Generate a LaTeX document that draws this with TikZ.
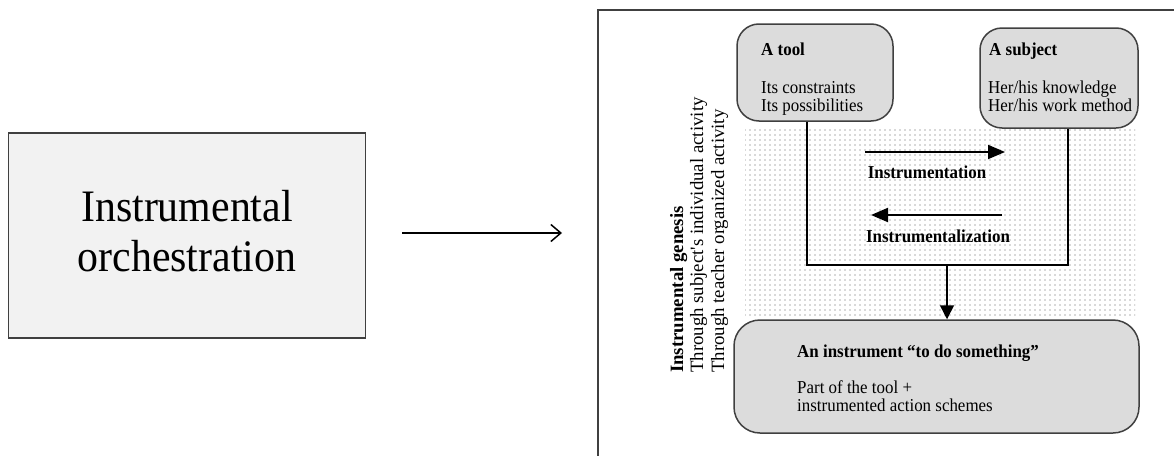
\documentclass[tikz,border=0pt]{standalone}
\usepackage{fontspec}
\setmainfont{Liberation Serif}[FakeStretch=0.93]
\newfontfamily\rotfont{Liberation Serif}
\usetikzlibrary{arrows.meta,patterns.meta}
\definecolor{boxfill}{RGB}{220,220,220}
\definecolor{leftfill}{RGB}{242,242,242}
\definecolor{edgecol}{RGB}{64,64,64}
\definecolor{dotcol}{RGB}{180,180,180}
\begin{document}
\begin{tikzpicture}[x=1pt,y=-1pt,
  rbox/.style={draw=edgecol, line width=1.5pt, fill=boxfill, rounded corners=22pt, inner sep=0pt},
  lbox/.style={draw=edgecol, line width=1.2pt, fill=leftfill, inner sep=0pt},
  txt/.style={inner sep=0pt, anchor=base west, font=\fontsize{18.2}{19}\selectfont},
  btxt/.style={txt, font=\fontsize{18.2}{19}\selectfont\bfseries},
  rtxt/.style={inner sep=0pt, anchor=base west, rotate=90, font=\rotfont\fontsize{18.8}{20}\selectfont},
  conn/.style={draw=black, line width=1.5pt},
  bigarrow/.style={draw=black, line width=2pt, -{Triangle[length=17pt,width=14pt]}}
]
\useasboundingbox (0,0) rectangle (1174,455);
\fill[white] (0,0) rectangle (1174,455);

% left box
\node[lbox, minimum width=357pt, minimum height=205pt] (orchbox) at (187,235.5) {};
\node[inner sep=0pt, align=center, font=\fontsize{45}{50}\selectfont] (orch) at (187,231) {Instrumental\\orchestration};

% left arrow
\coordinate (la1) at (402,233);
\coordinate (la2) at (562,233);
\draw[black, line width=1.5pt, -{Straight Barb[length=10pt,width=17pt]}] (la1) -- (la2);

% frame
\draw[edgecol, line width=2pt] (598,460) -- (598,10) -- (1180,10);

% dotted area
\fill[pattern={Dots[distance=5pt,radius=0.8pt]}, pattern color=dotcol] (745,128) rectangle (1135,318);

% boxes
\node[rbox, minimum width=156pt, minimum height=97pt] (tool) at (815,72.5) {};
\node[rbox, minimum width=158pt, minimum height=100pt] (subject) at (1059,78) {};
\node[rbox, minimum width=405pt, minimum height=113pt, rounded corners=26pt] (instr) at (936.5,376.5) {};

% tool texts
\node[btxt] (t1) at (761,55) {A tool};
\node[txt] (t2) at (761,93) {Its constraints};
\node[txt] (t3) at (761,111) {Its possibilities};

% subject texts
\node[btxt] (s1) at (989,55) {A subject};
\node[txt] (s2) at (988,93) {Her/his knowledge};
\node[txt] (s3) at (988,111) {Her/his work method};

% instrument texts
\node[btxt] (b1) at (797,357) {An instrument “to do something”};
\node[txt] (b2) at (797,393) {Part of the tool +};
\node[txt] (b3) at (797,411) {instrumented action schemes};

% rotated texts
\node[rtxt, font=\rotfont\fontsize{18.8}{20}\selectfont\bfseries] (g1) at (683,373) {Instrumental genesis};
\node[rtxt] (g2) at (703,373) {Through subject's individual activity};
\node[rtxt] (g3) at (724,373) {Through teacher organized activity};

% connectors
\coordinate (j1) at (807,265);
\coordinate (j2) at (1068,265);
\coordinate (jm) at (947,265);
\draw[conn] (tool.south -| j1) -- (j1) -- (j2) -- (subject.south -| j2);
\draw[conn, -{Triangle[length=14pt,width=14pt]}] (jm) -- (instr.north -| jm);

% instrumentation arrows
\coordinate (ia1) at (865,152);
\coordinate (ia2) at (1005,152);
\coordinate (ib1) at (1002,215);
\coordinate (ib2) at (871,215);
\draw[bigarrow] (ia1) -- (ia2);
\draw[bigarrow] (ib1) -- (ib2);
\node[btxt, anchor=base] (lab1) at (927,178) {Instrumentation};
\node[btxt, anchor=base] (lab2) at (938,242) {Instrumentalization};
\end{tikzpicture}
\end{document}
